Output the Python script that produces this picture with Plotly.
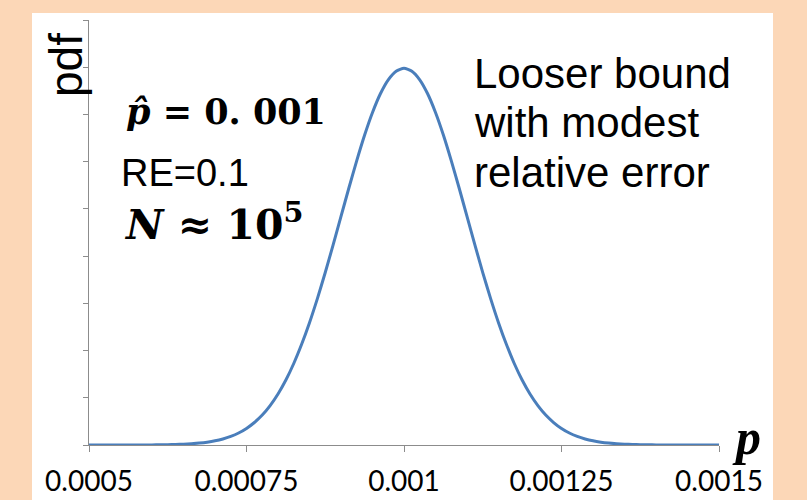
import plotly.graph_objects as go

# ---- data ----
p_values = [0.0005, 0.0005125, 0.000525, 0.0005375, 0.00055, 0.0005625, 0.000575, 0.0005875,
            0.0006, 0.0006125, 0.000625, 0.0006375, 0.00065, 0.0006625, 0.000675, 0.0006875,
            0.0007, 0.0007125, 0.000725, 0.0007375, 0.00075, 0.0007625, 0.000775, 0.0007875,
            0.0008, 0.0008125, 0.000825, 0.0008375, 0.00085, 0.0008625, 0.000875, 0.0008875,
            0.0009, 0.0009125, 0.000925, 0.0009375, 0.00095, 0.0009625, 0.000975, 0.0009875,
            0.001,
            0.0010125, 0.001025, 0.0010375, 0.00105, 0.0010625, 0.001075, 0.0010875,
            0.0011, 0.0011125, 0.001125, 0.0011375, 0.00115, 0.0011625, 0.001175, 0.0011875,
            0.0012, 0.0012125, 0.001225, 0.0012375, 0.00125, 0.0012625, 0.001275, 0.0012875,
            0.0013, 0.0013125, 0.001325, 0.0013375, 0.00135, 0.0013625, 0.001375, 0.0013875,
            0.0014, 0.0014125, 0.001425, 0.0014375, 0.00145, 0.0014625, 0.001475, 0.0014875,
            0.0015]
pdf_values = [0, 0, 0, 0.1, 0.2, 0.3, 0.5, 0.8, 1.3, 2.2, 3.5, 5.6, 8.7, 13.4,
              20, 30, 44, 64, 91, 127, 175, 238, 317, 417, 540, 688, 863, 1066, 1295, 1550,
              1826, 2119, 2420, 2721, 3011, 3282, 3521, 3719, 3867, 3958,
              3989,
              3958, 3867, 3719, 3521, 3282, 3011, 2721, 2420, 2119, 1826,
              1550, 1295, 1066, 863, 688, 540, 417, 317, 238, 175, 127, 91, 64, 44, 30, 20,
              13.4, 8.7, 5.6, 3.5, 2.2, 1.3, 0.8, 0.5, 0.3, 0.2, 0.1, 0, 0, 0]
x_tick_vals = [0.0005, 0.00075, 0.001, 0.00125, 0.0015]
x_tick_text = ["0.0005", "0.00075", "0.001", "0.00125", "0.0015"]

# ---- layout geometry (pixels) ----
W, H = 807, 500
L, R, T, B = 89, 719, 20, 445


def fx(x):
    return (x - L) / (R - L)


def fy(y):
    return (B - y) / (B - T)


fig = go.Figure()
fig.add_trace(go.Scatter(
    x=p_values, y=pdf_values, mode="lines",
    line=dict(color="#4A7EBB", width=3, shape="spline", smoothing=0.6),
    hoverinfo="skip", showlegend=False))

axis_col = "#8C8C8C"
fig.update_xaxes(range=[0.0005, 0.0015], showgrid=False, zeroline=False,
                 showline=True, linecolor=axis_col, linewidth=1,
                 ticks="outside", ticklen=6, tickcolor=axis_col, tickwidth=1,
                 tickvals=x_tick_vals, ticktext=x_tick_text,
                 tickfont=dict(family="Lato", size=28, color="black"),
                 ticklabelstandoff=5, automargin=False)
fig.update_yaxes(range=[0, 4500], dtick=500, showgrid=False, zeroline=False,
                 showline=True, linecolor=axis_col, linewidth=1,
                 ticks="outside", ticklen=5, tickcolor=axis_col, tickwidth=1,
                 showticklabels=False, automargin=False)

shapes = [dict(type="rect", xref="paper", yref="paper", layer="below",
               x0=fx(32), x1=fx(773), y0=fy(505), y1=fy(13),
               fillcolor="white", line=dict(width=0))]

ann = []


def add(text, x, y, size, family, xanchor="left", yanchor="middle", angle=0):
    ann.append(dict(text=text, x=fx(x), y=fy(y), xref="paper", yref="paper",
                    xanchor=xanchor, yanchor=yanchor, showarrow=False,
                    textangle=angle,
                    font=dict(family=family, size=size, color="black")))


add("pdf", 66, 65, 46, "Liberation Sans", xanchor="center", angle=-90)
add("<b><i>p\u0302</i> = 0. 001</b>", 124, 111, 35, "DejaVu Serif")
add("RE=0.1", 119, 173, 38, "Liberation Sans")
add("<b><i>N</i> \u2248 10<sup>5</sup></b>", 122, 222, 41, "DejaVu Serif")
add("Looser bound", 472, 73, 42, "Liberation Sans")
add("with modest", 472, 122, 42, "Liberation Sans")
add("relative error", 472, 172, 42, "Liberation Sans")
add("<b><i>p</i></b>", 746, 437, 50, "Liberation Serif", xanchor="center")

fig.update_layout(width=W, height=H, autosize=False,
                  margin=dict(l=L, r=W - R, t=T, b=H - B, pad=0),
                  paper_bgcolor="#FCD7B7", plot_bgcolor="rgba(0,0,0,0)",
                  shapes=shapes, annotations=ann)

post = ("document.documentElement.style.margin='0';"
        "document.documentElement.style.overflow='hidden';"
        "document.body.style.margin='0';"
        "document.body.style.overflow='hidden';"
        "var gd=document.getElementById('{plot_id}');"
        "gd.style.position='fixed';gd.style.left='0px';gd.style.top='0px';")

fig.write_html("out.html", config={"displayModeBar": False}, post_script=post)
